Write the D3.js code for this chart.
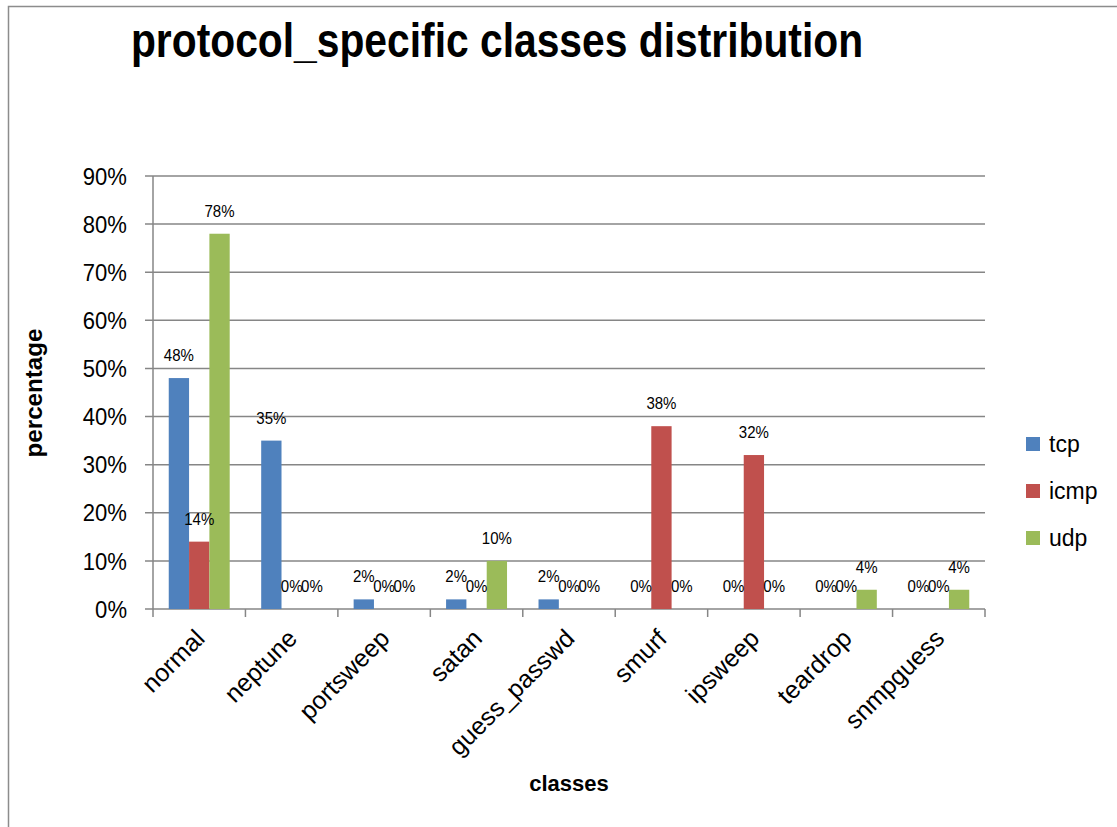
<!DOCTYPE html>
<html>
<head>
<meta charset="utf-8">
<script src="https://cdn.jsdelivr.net/npm/d3@7"></script>
<style>
  html, body { margin: 0; padding: 0; background: #fff; }
  svg { display: block; font-family: "Liberation Sans", Arial, sans-serif; }
</style>
</head>
<body>
<svg id="chart" width="1117" height="827"></svg>
<script>
// Data
const classes = ["normal","neptune","portsweep","satan","guess_passwd","smurf","ipsweep","teardrop","snmpguess"];
const protocols = ["tcp","icmp","udp"];
const tcpVals  = [48, 35, 2, 2, 2, 0, 0, 0, 0];
const icmpVals = [14, 0, 0, 0, 0, 38, 32, 0, 0];
const udpVals  = [78, 0, 0, 10, 0, 0, 0, 4, 4];
const yTicks = [0, 10, 20, 30, 40, 50, 60, 70, 80, 90];
const colors = ["#4F81BD", "#C0504D", "#9BBB59"];

const seriesVals = [tcpVals, icmpVals, udpVals];

const svg = d3.select("#chart");

// outer frame
svg.append("rect")
  .attr("x", 8.5).attr("y", 6.5)
  .attr("width", 1300).attr("height", 1000)
  .attr("fill", "none").attr("stroke", "#8c8c8c").attr("stroke-width", 1.5);

const plotL = 153, plotR = 985, plotT = 176, plotB = 609;

const x = d3.scaleBand().domain(classes).range([plotL, plotR]).paddingInner(0).paddingOuter(0);
const inner = d3.scaleBand().domain(protocols).range([0, x.bandwidth()]).paddingInner(0).paddingOuter(0.775);
const y = d3.scaleLinear().domain([0, 90]).range([plotB, plotT]);

// gridlines
svg.append("g")
  .selectAll("line")
  .data(yTicks)
  .join("line")
    .attr("x1", plotL - 8).attr("x2", plotR)
    .attr("y1", d => y(d)).attr("y2", d => y(d))
    .attr("stroke", "#868686").attr("stroke-width", 1.5);

// y axis line
svg.append("line")
  .attr("x1", plotL).attr("x2", plotL).attr("y1", plotT).attr("y2", plotB)
  .attr("stroke", "#868686").attr("stroke-width", 1.5);

// y tick labels
svg.append("g")
  .selectAll("text")
  .data(yTicks)
  .join("text")
    .attr("transform", d => `translate(${plotL - 26},${y(d)}) scale(0.92,1)`)
    .attr("dy", "0.36em")
    .attr("text-anchor", "end")
    .attr("font-size", 24)
    .attr("fill", "#000")
    .text(d => d + "%");

// x category ticks
const boundaries = classes.map(c => x(c)).concat([plotR]);
svg.append("g")
  .selectAll("line")
  .data(boundaries)
  .join("line")
    .attr("x1", d => d).attr("x2", d => d)
    .attr("y1", plotB).attr("y2", plotB + 8)
    .attr("stroke", "#868686").attr("stroke-width", 1.5);

// bars
const barData = [];
classes.forEach((c, i) => {
  protocols.forEach((p, j) => {
    barData.push({ cls: c, proto: p, val: seriesVals[j][i], color: colors[j] });
  });
});

svg.append("g")
  .selectAll("rect")
  .data(barData)
  .join("rect")
    .attr("x", d => x(d.cls) + inner(d.proto))
    .attr("y", d => y(d.val))
    .attr("width", inner.bandwidth())
    .attr("height", d => y(0) - y(d.val))
    .attr("fill", d => d.color);

// data labels
svg.append("g")
  .selectAll("text")
  .data(barData)
  .join("text")
    .attr("transform", d => `translate(${x(d.cls) + inner(d.proto) + inner.bandwidth() / 2},${y(d.val) - 17}) scale(0.94,1)`)
    .attr("text-anchor", "middle")
    .attr("font-size", 16)
    .attr("fill", "#000")
    .text(d => d.val + "%");

// x labels rotated
svg.append("g")
  .selectAll("text")
  .data(classes)
  .join("text")
    .attr("transform", d => `translate(${x(d) + x.bandwidth() / 2 + 7},${plotB + 31}) rotate(-45)`)
    .attr("text-anchor", "end")
    .attr("font-size", 25)
    .attr("fill", "#000")
    .text(d => d);

// title
svg.append("text")
  .attr("transform", "translate(497,57) scale(0.85,1)")
  .attr("text-anchor", "middle")
  .attr("font-size", 48)
  .attr("font-weight", "bold")
  .text("protocol_specific classes distribution");

// axis titles
svg.append("text")
  .attr("transform", `translate(42,393) rotate(-90) scale(1.05,1)`)
  .attr("text-anchor", "middle")
  .attr("font-size", 23)
  .attr("font-weight", "bold")
  .text("percentage");

svg.append("text")
  .attr("x", 569).attr("y", 791)
  .attr("text-anchor", "middle")
  .attr("font-size", 22)
  .attr("font-weight", "bold")
  .text("classes");

// legend
const legend = svg.append("g")
  .selectAll("g")
  .data(protocols)
  .join("g")
    .attr("transform", (d, i) => `translate(1026,${437 + i * 47})`);

legend.append("rect")
  .attr("width", 14).attr("height", 14)
  .attr("fill", (d, i) => colors[i]);

legend.append("text")
  .attr("x", 23).attr("y", 7)
  .attr("dy", "0.35em")
  .attr("font-size", 23)
  .text(d => d);
</script>
</body>
</html>
